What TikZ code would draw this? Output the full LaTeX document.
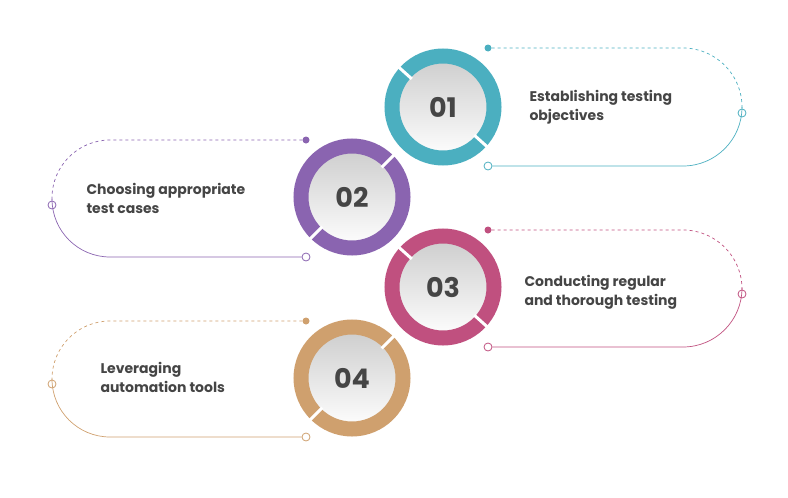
\documentclass[tikz,border=0pt]{standalone}
\usepackage{fontspec}
\setmainfont{Poppins}
\definecolor{cA}{HTML}{4BAFC0}
\definecolor{cB}{HTML}{8A64B0}
\definecolor{cC}{HTML}{C0507F}
\definecolor{cD}{HTML}{CFA06E}
\definecolor{txt}{HTML}{454545}
\tikzset{
  ring/.style={circle,minimum size=102pt,inner sep=0pt,draw=#1,line width=15pt,
    left color=gray!40,right color=white,shading angle=0,text=txt,font=\bfseries\fontsize{27}{27}\selectfont},
  fdot/.style={circle,fill=#1,inner sep=0pt,minimum size=7pt},
  odot/.style={circle,draw=#1,fill=white,inner sep=0pt,minimum size=8pt,line width=0.8pt},
  lbl/.style={text=txt,font=\bfseries\fontsize{14}{19}\selectfont,align=left,anchor=west},
  gap/.style={white,line width=3pt},
}
\begin{document}
\begin{tikzpicture}[x=1pt,y=-1pt]
\useasboundingbox (0,0) rectangle (788,498);
% connectors 01
\node[fdot=cA] (a1) at (488,48) {};
\node[odot=cA] (a2) at (742,113) {};
\node[odot=cA] (a3) at (488,166) {};
\draw[cA,dashed,line width=0.7pt] (a1) -- (683,48) arc[start angle=-90,end angle=0,radius=59] -- (a2);
\draw[cA,line width=0.7pt] (a2) -- (742,107) arc[start angle=0,end angle=90,radius=59] -- (a3);
% 02
\node[fdot=cB] (b1) at (306,140) {};
\node[odot=cB] (b2) at (52,205) {};
\node[odot=cB] (b3) at (306,257) {};
\draw[cB,dashed,line width=0.7pt] (b1) -- (110,140) arc[start angle=270,end angle=180,radius=58] -- (b2);
\draw[cB,line width=0.7pt] (b2) -- (52,199) arc[start angle=180,end angle=90,radius=58] -- (b3);
% 03
\node[fdot=cC] (c1) at (488,230) {};
\node[odot=cC] (c2) at (742,294) {};
\node[odot=cC] (c3) at (488,347) {};
\draw[cC,dashed,line width=0.7pt] (c1) -- (683,230) arc[start angle=-90,end angle=0,radius=59] -- (c2);
\draw[cC,line width=0.7pt] (c2) -- (742,288) arc[start angle=0,end angle=90,radius=59] -- (c3);
% 04
\node[fdot=cD] (d1) at (306,321) {};
\node[odot=cD] (d2) at (52,384) {};
\node[odot=cD] (d3) at (306,437) {};
\draw[cD,dashed,line width=0.7pt] (d1) -- (110,321) arc[start angle=270,end angle=180,radius=58] -- (d2);
\draw[cD,line width=0.7pt] (d2) -- (52,379) arc[start angle=180,end angle=90,radius=58] -- (d3);
% rings
\node[ring=cA] (r1) at (443,107) {01};
\foreach \c/\a in {r1/-138,r1/42}{\draw[gap] (\c.center) ++(\a:42) -- ++(\a:18);}
\node[ring=cB] (r2) at (352,197) {02};
\foreach \c/\a in {r2/-45,r2/135}{\draw[gap] (\c.center) ++(\a:42) -- ++(\a:18);}
\node[ring=cC] (r3) at (443,287) {03};
\foreach \c/\a in {r3/-138,r3/42}{\draw[gap] (\c.center) ++(\a:42) -- ++(\a:18);}
\node[ring=cD] (r4) at (352,378) {04};
\foreach \c/\a in {r4/-45,r4/135}{\draw[gap] (\c.center) ++(\a:42) -- ++(\a:18);}
% labels
\node[lbl] (t1) at (526,107) {Establishing testing\\objectives};
\node[lbl] (t2) at (83,198) {Choosing appropriate\\test cases};
\node[lbl] (t3) at (521,292) {Conducting regular\\and thorough testing};
\node[lbl] (t4) at (97,377) {Leveraging\\automation tools};
\end{tikzpicture}
\end{document}
